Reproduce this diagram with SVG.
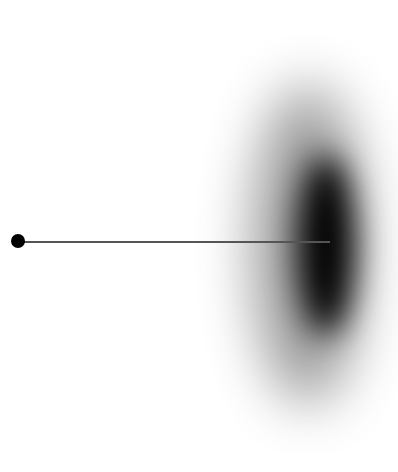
<svg xmlns="http://www.w3.org/2000/svg" width="398" height="472" viewBox="0 0 398 472">
<defs>
<filter id="b1" x="-200%" y="-100%" width="500%" height="300%"><feGaussianBlur stdDeviation="28"/></filter>
<filter id="b2" x="-200%" y="-100%" width="500%" height="300%"><feGaussianBlur stdDeviation="16"/></filter>
</defs>
<rect width="398" height="472" fill="#fff"/>
<g id="blob">
<ellipse cx="308" cy="245" rx="55" ry="160" fill="#000" opacity="0.4" filter="url(#b1)"/>
<ellipse cx="326" cy="245" rx="28" ry="90" fill="#000" filter="url(#b2)"/>
</g>
<g id="connectors">
<line x1="18" y1="242" x2="330" y2="242" stroke="#555" stroke-width="2"/>
</g>
<g id="node">
<circle cx="18" cy="241" r="7" fill="#000"/>
</g>
</svg>
